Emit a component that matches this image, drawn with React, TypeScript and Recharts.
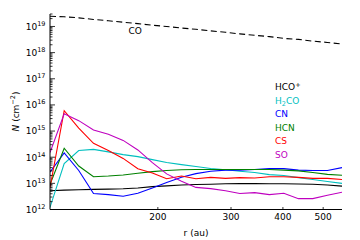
import React from 'react';
import { LineChart, Line, XAxis, YAxis, Customized } from 'recharts';

const radii = [110, 119, 129, 140, 152, 165, 179, 194, 210, 228, 247, 268, 291, 315, 342, 371, 402, 436, 472, 512, 555];
const coN = [2.45e19, 2.34e19, 2.14e19, 1.86e19, 1.66e19, 1.45e19, 1.29e19, 1.12e19, 1.0e19, 8.7e18, 7.8e18, 6.8e18, 6.0e18, 5.2e18, 4.6e18, 4.1e18, 3.5e18, 3.2e18, 2.75e18, 2.45e18, 2.14e18];
const hcopN = [5.2e12, 5.5e12, 5.7e12, 5.9e12, 6.0e12, 6.2e12, 6.6e12, 7.5e12, 8.0e12, 8.6e12, 9.0e12, 9.3e12, 9.6e12, 9.8e12, 9.8e12, 9.7e12, 9.7e12, 9.4e12, 9.3e12, 8.6e12, 7.8e12];
const h2coN = [1.2e12, 5.7e13, 1.8e14, 2.0e14, 1.6e14, 1.26e14, 1.05e14, 8.1e13, 6.3e13, 5.2e13, 4.4e13, 3.7e13, 3.3e13, 2.9e13, 2.6e13, 2.15e13, 2.0e13, 1.65e13, 1.4e13, 1.17e13, 1.0e13];
const cnN = [2.7e13, 1.45e14, 3.1e13, 4.1e12, 3.7e12, 3.2e12, 4.2e12, 6.6e12, 1.07e13, 1.7e13, 2.35e13, 2.9e13, 3.2e13, 3.2e13, 3.4e13, 3.65e13, 3.65e13, 3.2e13, 3.1e13, 3.1e13, 4.0e13];
const hcnN = [9e12, 2.2e14, 4.6e13, 1.78e13, 1.9e13, 2.1e13, 2.45e13, 2.8e13, 3.1e13, 3.3e13, 3.4e13, 3.4e13, 3.4e13, 3.4e13, 3.4e13, 3.4e13, 3.2e13, 3.0e13, 2.6e13, 2.2e13, 2.05e13];
const csN = [7e12, 6e15, 1.3e15, 3.4e14, 1.8e14, 9e13, 3.6e13, 2.5e13, 1.5e13, 1.9e13, 1.5e13, 1.7e13, 1.55e13, 1.65e13, 1.6e13, 1.8e13, 1.8e13, 1.7e13, 1.55e13, 1.55e13, 1.4e13];
const soN = [1.5e14, 4.6e15, 2.5e15, 1.1e15, 7.5e14, 4.4e14, 1.9e14, 6.2e13, 2.3e13, 1.2e13, 7e12, 6.3e12, 5.2e12, 4.1e12, 4.4e12, 3.7e12, 4.2e12, 2.6e12, 2.6e12, 3.5e12, 4.6e12];

const xTicks = [200, 300, 400, 500];
const yMajorTicks = [1e12, 1e13, 1e14, 1e15, 1e16, 1e17, 1e18, 1e19];
const yMinorMult = [2, 3, 4, 5, 6, 7, 8, 9];
const xDomain = [110, 555];
const yDomain = [1e12, 3e19];

const yTicks: number[] = [];
yMajorTicks.forEach((m) => {
  yTicks.push(m);
  yMinorMult.forEach((k) => {
    const v = m * k;
    if (v <= yDomain[1] * 1.0001) yTicks.push(v);
  });
});

const data = radii.map((r, i) => ({
  r,
  co: coN[i],
  hcop: hcopN[i],
  h2co: h2coN[i],
  cn: cnN[i],
  hcn: hcnN[i],
  cs: csN[i],
  so: soN[i],
}));

const FONT = 'DejaVu Sans';
const C = {
  black: '#000000',
  cyan: '#00bfbf',
  blue: '#0000ff',
  green: '#008000',
  red: '#ff0000',
  magenta: '#bf00bf',
};

const isMajor = (v: number) => {
  const e = Math.round(Math.log10(v));
  return Math.abs(v - Math.pow(10, e)) / v < 1e-6;
};

const YTickLeft = (props: any) => {
  const { x, y, payload } = props;
  const v = payload.value;
  const major = isMajor(v);
  const e = Math.round(Math.log10(v));
  return (
    <g>
      <line x1={x} y1={y} x2={x + (major ? 5 : 2.5)} y2={y} stroke="#000" strokeWidth={0.8} />
      {major && (
        <text x={x - 4.5} y={y + 3.3} textAnchor="end" fontSize={9} fontFamily={FONT} fill="#000">
          <tspan>10</tspan>
          <tspan dy={-4} fontSize={6.5}>{e}</tspan>
        </text>
      )}
    </g>
  );
};

const YTickRight = (props: any) => {
  const { x, y, payload } = props;
  const major = isMajor(payload.value);
  return <line x1={x} y1={y} x2={x - (major ? 5 : 2.5)} y2={y} stroke="#000" strokeWidth={0.8} />;
};

const XTickBottom = (props: any) => {
  const { x, y, payload } = props;
  return (
    <g>
      <line x1={x} y1={y} x2={x} y2={y - 2.5} stroke="#000" strokeWidth={0.8} />
      <text x={x} y={y + 10.8} textAnchor="middle" fontSize={9} fontFamily={FONT} fill="#000">
        {payload.value}
      </text>
    </g>
  );
};

const XTickTop = (props: any) => {
  const { x, y } = props;
  return <line x1={x} y1={y} x2={x} y2={y + 2.5} stroke="#000" strokeWidth={0.8} />;
};

const legendItems = [
  { key: 'hcop', color: C.black },
  { key: 'h2co', color: C.cyan },
  { key: 'cn', color: C.blue },
  { key: 'hcn', color: C.green },
  { key: 'cs', color: C.red },
  { key: 'so', color: C.magenta },
];

const legendLabel = (key: string) => {
  switch (key) {
    case 'hcop':
      return (
        <>
          <tspan>HCO</tspan>
          <tspan dy={-3.5} fontSize={6.5}>+</tspan>
        </>
      );
    case 'h2co':
      return (
        <>
          <tspan>H</tspan>
          <tspan dy={2} fontSize={6.5}>2</tspan>
          <tspan dy={-2}>CO</tspan>
        </>
      );
    case 'cn':
      return 'CN';
    case 'hcn':
      return 'HCN';
    case 'cs':
      return 'CS';
    default:
      return 'SO';
  }
};

const Overlay = () => (
  <g fontFamily={FONT}>
    {legendItems.map((it, i) => (
      <text key={it.key} x={275} y={90 + i * 13.5} fontSize={9} fill={it.color}>
        {legendLabel(it.key)}
      </text>
    ))}
    <text x={128.5} y={34} fontSize={9} fill="#000">CO</text>
    <text x={196} y={235.5} fontSize={9} textAnchor="middle" fill="#000">r (au)</text>
    <text transform="translate(18.5,111.5) rotate(-90)" x={0} y={0} fontSize={9} textAnchor="middle" fill="#000">
      <tspan fontStyle="italic">N</tspan>
      <tspan> (cm</tspan>
      <tspan dy={-3.5} fontSize={6.5}>−2</tspan>
      <tspan dy={3.5}>)</tspan>
    </text>
  </g>
);

export default function App() {
  return (
    <div style={{ position: 'absolute', left: 0, top: 0, width: 360, height: 240, background: '#fff' }}>
      <LineChart width={360} height={240} data={data} margin={{ top: 14, right: 18, bottom: 0, left: 0 }}>
        <XAxis
          xAxisId="b"
          dataKey="r"
          type="number"
          scale="log"
          domain={xDomain}
          allowDataOverflow
          ticks={xTicks}
          interval={0}
          height={30.5}
          tickSize={0}
          tickMargin={0}
          tickLine={false}
          axisLine={{ stroke: '#000', strokeWidth: 1 }}
          tick={<XTickBottom />}
        />
        <XAxis
          xAxisId="t"
          orientation="top"
          dataKey="r"
          type="number"
          scale="log"
          domain={xDomain}
          allowDataOverflow
          ticks={xTicks}
          interval={0}
          height={0}
          tickSize={0}
          tickMargin={0}
          tickLine={false}
          axisLine={{ stroke: '#000', strokeWidth: 1 }}
          tick={<XTickTop />}
        />
        <YAxis
          yAxisId="l"
          type="number"
          scale="log"
          domain={yDomain}
          allowDataOverflow
          ticks={yTicks}
          interval={0}
          width={50}
          tickSize={0}
          tickMargin={0}
          tickLine={false}
          axisLine={{ stroke: '#000', strokeWidth: 1 }}
          tick={<YTickLeft />}
        />
        <YAxis
          yAxisId="r"
          orientation="right"
          type="number"
          scale="log"
          domain={yDomain}
          allowDataOverflow
          ticks={yTicks}
          interval={0}
          width={0}
          tickSize={0}
          tickMargin={0}
          tickLine={false}
          axisLine={{ stroke: '#000', strokeWidth: 1 }}
          tick={<YTickRight />}
        />
        <Line xAxisId="b" yAxisId="l" dataKey="co" stroke="#000" strokeWidth={1.1} strokeDasharray="6 3.5" dot={false} isAnimationActive={false} />
        <Line xAxisId="b" yAxisId="l" dataKey="hcop" stroke={C.black} strokeWidth={1.1} dot={false} isAnimationActive={false} />
        <Line xAxisId="b" yAxisId="l" dataKey="h2co" stroke={C.cyan} strokeWidth={1.1} dot={false} isAnimationActive={false} />
        <Line xAxisId="b" yAxisId="l" dataKey="cn" stroke={C.blue} strokeWidth={1.1} dot={false} isAnimationActive={false} />
        <Line xAxisId="b" yAxisId="l" dataKey="hcn" stroke={C.green} strokeWidth={1.1} dot={false} isAnimationActive={false} />
        <Line xAxisId="b" yAxisId="l" dataKey="cs" stroke={C.red} strokeWidth={1.1} dot={false} isAnimationActive={false} />
        <Line xAxisId="b" yAxisId="l" dataKey="so" stroke={C.magenta} strokeWidth={1.1} dot={false} isAnimationActive={false} />
        <Customized component={<Overlay />} />
      </LineChart>
    </div>
  );
}
